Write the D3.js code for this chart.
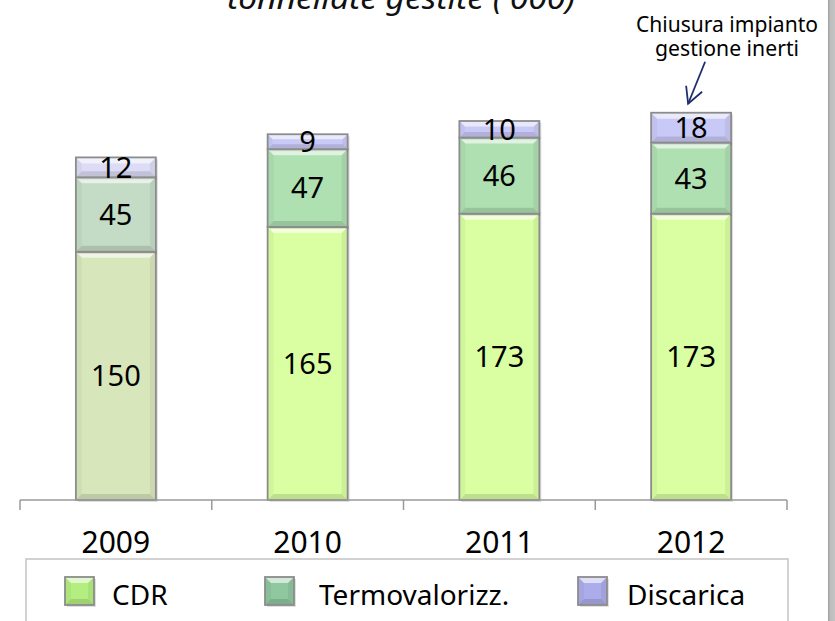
<!DOCTYPE html>
<html><head><meta charset="utf-8">
<script src="https://cdn.jsdelivr.net/npm/d3@7"></script>
<style>html,body{margin:0;padding:0;background:#fff;}svg{display:block;font-family:"Noto Sans",sans-serif;}</style>
</head><body>
<svg id="c" width="835" height="621"></svg>
<script>
const years = ["2009","2010","2011","2012"];
const seriesNames = ["CDR","Termovalorizz.","Discarica"];
const cdr = [150,165,173,173];
const termo = [45,47,46,43];
const discarica = [12,9,10,18];
const titleText = "tonnellate gestite ('000)";
const noteLines = ["Chiusura impianto","gestione inerti"];

const colors = {
  normal: ["#d9ffa2","#aee0b2","#c9c9f7"],
  muted:  ["#d8e6bc","#c4dcc5","#dcdcf6"],
  legend: ["#b5ee80","#8fc79f","#acacea"]
};

const svg = d3.select("#c");
const x = d3.scaleBand().domain(years).range([20,787]).padding(0);
const y = d3.scaleLinear().domain([0,300]).range([500,3.5]);
const barW = 80;

// right gray edge
const defs = svg.append("defs");
const g1 = defs.append("linearGradient").attr("id","edge").attr("x1","0").attr("x2","1");
g1.append("stop").attr("offset","0").attr("stop-color","#9a9a9a");
g1.append("stop").attr("offset","0.3").attr("stop-color","#bdbdbd");
g1.append("stop").attr("offset","1").attr("stop-color","#c4c4c4");
svg.append("rect").attr("x",828).attr("y",0).attr("width",7).attr("height",621).attr("fill","url(#edge)");

// title (cropped at top, as in the reference)
svg.append("text").attr("x",401).attr("y",9).attr("text-anchor","middle")
  .attr("font-size",31).attr("font-style","italic").attr("fill","#111")
  .attr("textLength",348).attr("lengthAdjust","spacingAndGlyphs").text(titleText);

function bevel(g, x0, y0, w, h, fill){
  const b = Math.min(6, h/3);
  g.append("rect").attr("x",x0+2).attr("y",y0+2).attr("width",w).attr("height",h).attr("fill","#000").attr("opacity",0.12);
  g.append("rect").attr("x",x0).attr("y",y0).attr("width",w).attr("height",h).attr("fill",fill);
  const P = pts => pts.map(p=>p.join(",")).join(" ");
  g.append("polygon").attr("points",P([[x0,y0],[x0+w,y0],[x0+w-b,y0+b],[x0+b,y0+b]])).attr("fill","#fff").attr("opacity",0.6);
  g.append("polygon").attr("points",P([[x0,y0+h],[x0+w,y0+h],[x0+w-b,y0+h-b],[x0+b,y0+h-b]])).attr("fill","#000").attr("opacity",0.12);
  g.append("polygon").attr("points",P([[x0,y0],[x0+b,y0+b],[x0+b,y0+h-b],[x0,y0+h]])).attr("fill","#000").attr("opacity",0.04);
  g.append("polygon").attr("points",P([[x0+w,y0],[x0+w-b,y0+b],[x0+w-b,y0+h-b],[x0+w,y0+h]])).attr("fill","#000").attr("opacity",0.06);
  g.append("rect").attr("x",x0).attr("y",y0).attr("width",w).attr("height",h).attr("fill","none").attr("stroke","#8c8c8c").attr("stroke-width",1.8);
}

const series = [cdr, termo, discarica];
const barsG = svg.append("g");
years.forEach((yr,i)=>{
  let base = 0;
  const cx = x(yr) + x.bandwidth()/2;
  const pal = i===0 ? colors.muted : colors.normal;
  series.forEach((s,k)=>{
    const v = s[i];
    const top = y(base+v), bot = y(base);
    bevel(barsG, cx-barW/2, top, barW, bot-top, pal[k]);
    base += v;
  });
});
// labels
const labG = svg.append("g");
years.forEach((yr,i)=>{
  let base = 0;
  const cx = x(yr) + x.bandwidth()/2;
  series.forEach((s,k)=>{
    const v = s[i];
    labG.append("text").attr("x",cx).attr("y",y(base+v/2)).attr("dy","0.36em")
      .attr("text-anchor","middle").attr("font-size",29).attr("fill","#000").text(v);
    base += v;
  });
});

// axis
const ax = svg.append("g");
ax.append("line").attr("x1",x.range()[0]).attr("x2",x.range()[1]).attr("y1",y(0)).attr("y2",y(0)).attr("stroke","#9a9a9a").attr("stroke-width",1.5);
const tickPos = years.map(d=>x(d)).concat([x.range()[1]]);
tickPos.forEach(t=>ax.append("line").attr("x1",t).attr("x2",t).attr("y1",y(0)).attr("y2",y(0)+10).attr("stroke","#9a9a9a").attr("stroke-width",1.5));
years.forEach(yr=>ax.append("text").attr("x",x(yr)+x.bandwidth()/2).attr("y",553).attr("text-anchor","middle").attr("font-size",30).attr("fill","#000").text(yr));

// legend
const lg = svg.append("g");
lg.append("rect").attr("x",26).attr("y",559).attr("width",762).attr("height",80).attr("fill","#fff").attr("stroke","#c4c4c4").attr("stroke-width",1.5);
const legX = [65,265,578], legTX = [112,319,627];
seriesNames.forEach((n,k)=>{
  bevel(lg, legX[k], 577, 29, 28, colors.legend[k]);
  lg.append("text").attr("x",legTX[k]).attr("y",605).attr("font-size",28).attr("fill","#000").text(n);
});

// annotation
const an = svg.append("g");
const noteW = [182,144];
noteLines.forEach((t,i)=>an.append("text").attr("x",727).attr("y",32+i*24).attr("text-anchor","middle")
  .attr("font-size",22).attr("textLength",noteW[i]).attr("lengthAdjust","spacingAndGlyphs").attr("fill","#000").text(t));
const tip = [x("2012")+x.bandwidth()/2-3, y(234)-9];
an.append("line").attr("x1",tip[0]+17).attr("y1",tip[1]-42).attr("x2",tip[0]).attr("y2",tip[1]).attr("stroke","#1f2d6e").attr("stroke-width",1.8);
an.append("polyline").attr("points",`${tip[0]-2},${tip[1]-18} ${tip[0]},${tip[1]} ${tip[0]+14},${tip[1]-12}`).attr("fill","none").attr("stroke","#1f2d6e").attr("stroke-width",1.8);
</script>
</body></html>
